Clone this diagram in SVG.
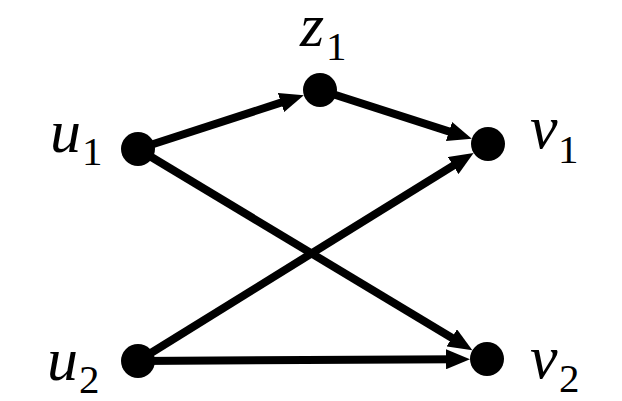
<svg xmlns="http://www.w3.org/2000/svg" width="622" height="401" viewBox="0 0 622 401">
<style>
.node{fill:#000}
.edge{stroke:#000;stroke-width:8;fill:none}
text{font-family:"Liberation Serif","Times New Roman",serif;fill:#000}
.lbl{font-size:62px;font-style:italic}
.sub{font-size:41px;font-style:normal}
</style>
<defs>
<marker id="ah" markerUnits="userSpaceOnUse" markerWidth="24" markerHeight="20" viewBox="0 0 24 20" refX="12" refY="10" orient="auto">
<path d="M0,0 L24,10 L0,20 z" fill="#000"/>
</marker>
</defs>
<rect width="622" height="401" fill="#fff"/>
<g id="connectors">
<line class="edge" x1="138" y1="149" x2="292.4" y2="98.9" marker-end="url(#ah)"/>
<line class="edge" x1="320" y1="90" x2="460.4" y2="135.1" marker-end="url(#ah)"/>
<line class="edge" x1="138" y1="149" x2="462.1" y2="344" marker-end="url(#ah)"/>
<line class="edge" x1="138" y1="361" x2="463.4" y2="159.3" marker-end="url(#ah)"/>
<line class="edge" x1="138" y1="361" x2="458" y2="359.2" marker-end="url(#ah)"/>
</g>
<g id="u1"><circle class="node" cx="138" cy="149" r="17"/><text class="lbl" x="50" y="152">u</text><text class="sub" x="82" y="165">1</text></g>
<g id="z1"><circle class="node" cx="320" cy="90" r="17"/><text class="lbl" x="300" y="46">z</text><text class="sub" x="326" y="60">1</text></g>
<g id="v1"><circle class="node" cx="488" cy="144" r="17"/><text class="lbl" x="530" y="148">v</text><text class="sub" x="558" y="163">1</text></g>
<g id="u2"><circle class="node" cx="138" cy="361" r="17"/><text class="lbl" x="47" y="380">u</text><text class="sub" x="79" y="393">2</text></g>
<g id="v2"><circle class="node" cx="487" cy="359" r="17"/><text class="lbl" x="530" y="378">v</text><text class="sub" x="559" y="392">2</text></g>
</svg>
